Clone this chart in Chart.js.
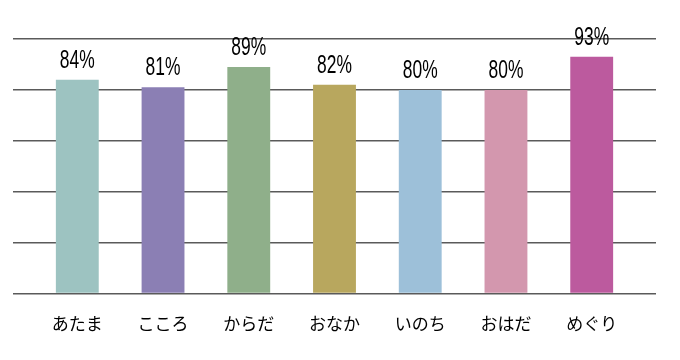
<!DOCTYPE html>
<html>
<head>
<meta charset="utf-8">
<script src="https://cdn.jsdelivr.net/npm/chart.js@4.4.1/dist/chart.umd.min.js"></script>
<style>
  html, body { margin: 0; padding: 0; background: #fff; }
  #wrap { width: 680px; height: 360px; }
</style>
</head>
<body>
<div id="wrap"><canvas id="chart"></canvas></div>
<script>
// categories and values
const labels = ['あたま', 'こころ', 'からだ', 'おなか', 'いのち', 'おはだ', 'めぐり'];
const values = [84, 81, 89, 82, 80, 80, 93];
const barColors = ['#9DC3C1', '#8B7FB4', '#8FAF8A', '#B8A75E', '#9DC0D9', '#D397AE', '#BC5A9E'];

// percent labels above each bar, squeezed to look like a narrow face
const valueLabels = {
  id: 'valueLabels',
  afterDatasetsDraw(chart) {
    const ctx = chart.ctx;
    const meta = chart.getDatasetMeta(0);
    ctx.save();
    ctx.fillStyle = '#000';
    ctx.font = '26px "Liberation Sans", sans-serif';
    ctx.textAlign = 'center';
    ctx.textBaseline = 'alphabetic';
    meta.data.forEach((bar, i) => {
      ctx.save();
      ctx.translate(bar.x, bar.y - 12);
      ctx.scale(0.67, 1);
      ctx.fillText(values[i] + '%', 0, 0);
      ctx.restore();
    });
    ctx.restore();
  }
};

new Chart(document.getElementById('chart'), {
  type: 'bar',
  data: {
    datasets: [{
      data: values.map((v, i) => ({ x: i, y: v })),
      backgroundColor: barColors,
      borderWidth: 0,
      barPercentage: 0.5,
      categoryPercentage: 1.0
    }]
  },
  options: {
    responsive: true,
    maintainAspectRatio: false,
    animation: false,
    layout: { padding: { left: 13, right: 24, top: 39, bottom: 6 } },
    plugins: {
      legend: { display: false },
      tooltip: { enabled: false }
    },
    scales: {
      x: {
        type: 'linear',
        offset: false,
        min: -0.75,
        max: 6.75,
        afterBuildTicks: (scale) => {
          scale.ticks = labels.map((_, i) => ({ value: i }));
        },
        grid: { display: false, drawTicks: false },
        border: { display: false },
        ticks: {
          autoSkip: false,
          maxRotation: 0,
          padding: 20,
          color: '#000',
          font: { family: '"Noto Sans CJK JP", sans-serif', size: 17 },
          callback: (v) => labels[v] ?? ''
        }
      },
      y: {
        min: 0,
        max: 100,
        ticks: { stepSize: 20, display: false },
        grid: { color: '#5a5a5a', lineWidth: 1.5, drawTicks: false },
        border: { display: false }
      }
    }
  },
  plugins: [valueLabels]
});
</script>
</body>
</html>
